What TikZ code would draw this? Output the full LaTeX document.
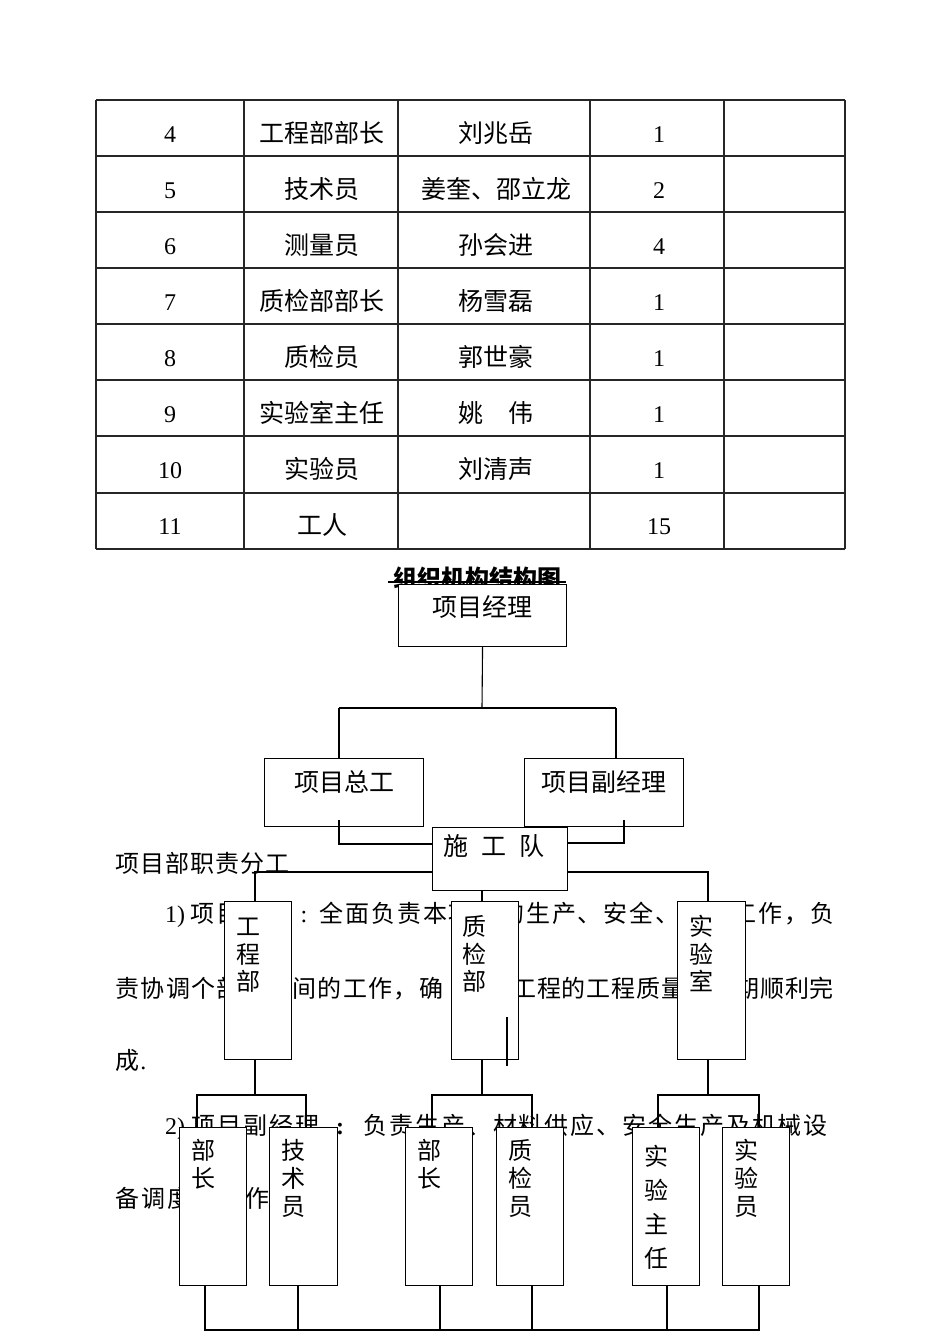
\documentclass[tikz,border=0pt]{standalone}
\usepackage{fontspec}
\setmainfont{Liberation Serif}
\newfontfamily\cjk{Noto Sans CJK SC}
\usetikzlibrary{calc}
\ExplSyntaxOn
\NewDocumentCommand\cells{mm}{\tl_map_inline:nn{#2}{\makebox[#1][l]{##1}}}
\ExplSyntaxOff
\newcommand\lat{\rmfamily}
\newcommand\tcfont{\cjk\fontsize{25}{30}\selectfont}
\newcommand\pfont{\cjk\fontsize{24}{28}\selectfont}
\newcommand\vlab[4]{\foreach \ch [count=\i from 0] in {#2} \node[vl] (#1-\i) at ($(#1.north west)+(24,#3+#4*\i)$) {\ch};}
\begin{document}
\begin{tikzpicture}[x=1pt,y=-1pt,line width=1.1pt,
  tline/.style={draw=black!85,line width=1.2pt},
  tc/.style={anchor=base,inner sep=0,font=\tcfont},
  tn/.style={anchor=base,inner sep=0,font=\lat\fontsize{24}{28}\selectfont},
  para/.style={anchor=base west,inner sep=0,font=\pfont},
  box/.style={draw,fill=white,anchor=north west,inner sep=0,line width=1.1pt},
  lbl/.style={anchor=base,inner sep=0,font=\tcfont},
  vl/.style={anchor=base,inner sep=0,font=\pfont}]
\useasboundingbox (0,0) rectangle (950,1344);
% table
\foreach \yy in {100,156,212,268,324,380,436,493,549} \draw[tline] (96,\yy) -- (845,\yy);
\foreach \xx in {96,244,398,590,724,845} \draw[tline] (\xx,100) -- (\xx,549);
\foreach \ra/\rb/\rc/\rd [count=\i from 0] in {4/工程部部长/刘兆岳/1,5/技术员/姜奎、邵立龙/2,6/测量员/孙会进/4,7/质检部部长/杨雪磊/1,8/质检员/郭世豪/1,9/实验室主任/姚　伟/1,10/实验员/刘清声/1,11/工人//15}{
  \pgfmathsetmacro\by{142+56.1*\i}
  \node[tn] (ra\i) at (170,\by) {\ra};
  \node[tc] (rb\i) at (322,\by) {\rb};
  \node[tc] (rc\i) at (496,\by) {\rc};
  \node[tn] (rd\i) at (659,\by) {\rd};
}
% title
\node[anchor=base,inner sep=0,font=\cjk\bfseries\fontsize{24}{28}\selectfont] (title) at (477,587) {组织机构结构图};
\coordinate (ul1) at (388,582); \coordinate (ul2) at (566,582);
\draw[line width=1.2pt] (ul1) -- (ul2);
% paragraph text
\node[para] (p1) at (115,872) {\cells{25pt}{项目部职责分工}};
\node[para] (p2) at (164.6,922) {\cells{25.8pt}{{\lat 1)}项目经理{\hfil\lat :\hfil}全面负责本项目的生产、安全、质量工作，负}};
\node[para] (p3a) at (115,997) {\cells{25.3pt}{责协调个部门之间的工作，确}};
\node[para] (p3b) at (511.8,997) {\cells{24.8pt}{工程的工程质量按工期顺利完}};
\node[para] (p4) at (115,1069) {\cells{24.8pt}{成{\lat .}}};
\node[para] (p5a) at (164.6,1134) {\cells{26pt}{{\lat 2)}项目副经理}};
\node[anchor=base,inner sep=0,font=\lat\bfseries\fontsize{24}{28}\selectfont] (p5c) at (340,1134) {:};
\node[para] (p5b) at (363,1134) {\cells{25.9pt}{负责生产、材料供应、安全生产及机械设}};
\node[para] (p6) at (115,1207) {\cells{26pt}{备调度等工作}};
% boxes
\node[box,minimum width=168pt,minimum height=62pt] (pm) at (398,584) {};
\node[box,minimum width=159pt,minimum height=68pt] (zg) at (264,758) {};
\node[box,minimum width=159pt,minimum height=68pt] (fj) at (524,758) {};
\node[box,minimum width=135pt,minimum height=63pt] (sg) at (432,827) {};
\node[box,minimum width=67pt,minimum height=158pt] (gcb) at (224,901) {};
\node[box,minimum width=67pt,minimum height=158pt] (zjb) at (450.5,901) {};
\node[box,minimum width=68pt,minimum height=158pt] (sys) at (677,901) {};
\node[box,minimum width=67pt,minimum height=158pt] (b1) at (179,1127) {};
\node[box,minimum width=68pt,minimum height=158pt] (b2) at (269,1127) {};
\node[box,minimum width=67pt,minimum height=158pt] (b3) at (405,1127) {};
\node[box,minimum width=67pt,minimum height=158pt] (b4) at (496,1127) {};
\node[box,minimum width=67pt,minimum height=158pt] (b5) at (632,1127) {};
\node[box,minimum width=67pt,minimum height=158pt] (b6) at (722,1127) {};
% labels
\node[lbl] (pmt) at (482,616) {项目经理};
\node[lbl] (zgt) at (344,791) {项目总工};
\node[lbl] (fjt) at (604,791) {项目副经理};
\node[lbl] (sgt) at (494,855) {施\hspace{13pt}工\hspace{13pt}队};
\vlab{gcb}{工,程,部}{34.7}{27.5}
\vlab{zjb}{质,检,部}{34.7}{27.5}
\vlab{sys}{实,验,室}{34.7}{27.5}
\vlab{b1}{部,长}{32}{28}
\vlab{b2}{技,术,员}{32}{28}
\vlab{b3}{部,长}{32}{28}
\vlab{b4}{质,检,员}{32}{28}
\vlab{b5}{实,验,主,任}{38}{34}
\vlab{b6}{实,验,员}{32}{28}
% connectors
\coordinate (j0) at (482,708);
\coordinate (jl) at (339,708);
\coordinate (jr) at (616,708);
\draw (pm.south) -- (j0);
\draw (jl) -- (jr);
\draw (jl) -- (jl |- zg.north);
\draw (jr) -- (jr |- fj.north);
\coordinate (za) at (339,820); \coordinate (zb) at (339,844);
\draw (za) -- (zb) -- (zb -| sg.west);
\coordinate (fa) at (624,820); \coordinate (fb) at (624,843);
\draw (fa) -- (fb) -- (fb -| sg.east);
\coordinate (sl) at (255,872); \coordinate (sr) at (708,872);
\draw (sl |- gcb.north) -- (sl) -- (sl -| sg.west);
\draw (sr |- sys.north) -- (sr) -- (sr -| sg.east);
\coordinate (sc) at (482,895);
\draw (sc |- sg.south) -- (sc |- zjb.north);
\coordinate (xa) at (507,1017); \coordinate (xb) at (507,1066);
\draw (xa) -- (xb);
% brackets
\coordinate (k1) at (255,1095); \coordinate (k1l) at (197,1095); \coordinate (k1r) at (306,1095);
\coordinate (k2) at (482,1095); \coordinate (k2l) at (432,1095); \coordinate (k2r) at (532,1095);
\coordinate (k3) at (708,1095); \coordinate (k3l) at (658,1095); \coordinate (k3r) at (759,1095);
\draw (k1 |- gcb.south) -- (k1);
\draw (k2 |- zjb.south) -- (k2);
\draw (k3 |- sys.south) -- (k3);
\draw (k1l |- b1.north) -- (k1l) -- (k1r) -- (k1r |- b2.north);
\draw (k2l |- b3.north) -- (k2l) -- (k2r) -- (k2r |- b4.north);
\draw (k3l |- b5.north) -- (k3l) -- (k3r) -- (k3r |- b6.north);
% bottom bus
\coordinate (m1) at (205,1330); \coordinate (m2) at (298,1330);
\coordinate (m3) at (440,1330); \coordinate (m4) at (532,1330);
\coordinate (m5) at (667,1330); \coordinate (m6) at (759,1330);
\draw (m1 |- b1.south) -- (m1) -- (m6) -- (m6 |- b6.south);
\draw (m2 |- b2.south) -- (m2);
\draw (m3 |- b3.south) -- (m3);
\draw (m4 |- b4.south) -- (m4);
\draw (m5 |- b5.south) -- (m5);
\end{tikzpicture}
\end{document}
